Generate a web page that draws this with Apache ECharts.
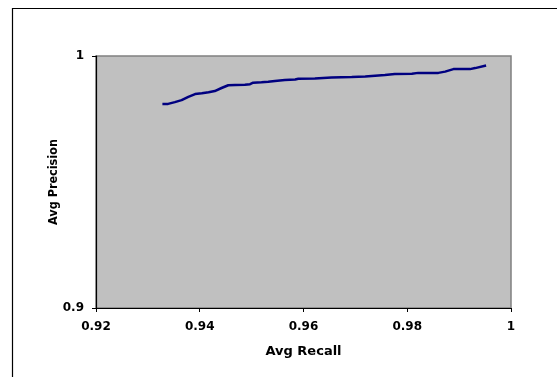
<!DOCTYPE html>
<html>
<head>
<meta charset="utf-8">
<script src="https://cdn.jsdelivr.net/npm/echarts@6/dist/echarts.min.js"></script>
<style>html,body{margin:0;padding:0;background:#fff;}#chart{width:557px;height:377px;}</style>
</head>
<body>
<div id="chart"></div>
<script>
var recall = [0.9328,0.9339,0.9352,0.9365,0.9378,0.9391,0.9404,0.9417,0.9429,0.9442,0.9455,0.9468,0.9487,0.9497,0.9503,0.9519,0.9532,0.9545,0.9564,0.9584,0.9590,0.9622,0.9654,0.9693,0.9719,0.9757,0.9776,0.9809,0.9821,0.9860,0.9873,0.9889,0.9921,0.9931,0.9952];
var precision = [0.9810,0.9810,0.9817,0.9825,0.9838,0.9849,0.9852,0.9856,0.9861,0.9873,0.9884,0.9885,0.9886,0.9888,0.9894,0.9896,0.9898,0.9901,0.9905,0.9907,0.9910,0.9911,0.9915,0.9917,0.9919,0.9925,0.9929,0.9930,0.9933,0.9933,0.9938,0.9948,0.9948,0.9952,0.9962];
var xTicks = [0.92, 0.94, 0.96, 0.98, 1];
var yTicks = [0.9, 1];
var xTitle = 'Avg Recall';
var yTitle = 'Avg Precision';

var points = recall.map(function (r, i) { return [r, precision[i]]; });
var chart = echarts.init(document.getElementById('chart'), null, {renderer: 'canvas'});
var labelFont = {color: '#000', fontFamily: 'DejaVu Sans', fontWeight: 'bold', fontSize: 12};
chart.setOption({
  animation: false,
  backgroundColor: '#fff',
  graphic: [{
    type: 'rect',
    shape: {x: 12.5, y: 8.5, width: 700, height: 500},
    style: {fill: 'none', stroke: '#000', lineWidth: 1.2},
    silent: true
  }],
  grid: {
    left: 96, top: 56, right: 46, bottom: 69,
    show: true, backgroundColor: '#C0C0C0', borderColor: '#808080', borderWidth: 1.5
  },
  xAxis: {
    type: 'value', min: 0.92, max: 1, interval: 0.02,
    name: xTitle, nameLocation: 'middle', nameGap: 37, nameMoveOverlap: false,
    nameTextStyle: {color: '#000', fontFamily: 'DejaVu Sans', fontWeight: 'bold', fontSize: 13},
    axisLine: {show: true, lineStyle: {color: '#000', width: 1.2}},
    axisTick: {show: true, inside: false, length: 4, lineStyle: {color: '#000'}},
    axisLabel: Object.assign({margin: 13, formatter: function (v) { return String(+v.toFixed(2)); }}, labelFont),
    splitLine: {show: false}
  },
  yAxis: {
    type: 'value', min: 0.9, max: 1, interval: 0.1,
    name: yTitle, nameLocation: 'middle', nameGap: 36, nameRotate: 90, nameMoveOverlap: false,
    nameTextStyle: {color: '#000', fontFamily: 'DejaVu Sans Condensed, Liberation Sans', fontWeight: 'bold', fontSize: 12.5},
    axisLine: {show: true, lineStyle: {color: '#000', width: 1.2}},
    axisTick: {show: true, inside: false, length: 4, lineStyle: {color: '#000'}},
    axisLabel: Object.assign({margin: 12, formatter: function (v) { return String(+v.toFixed(2)); }}, labelFont),
    splitLine: {show: false}
  },
  series: [{
    type: 'line',
    data: points,
    showSymbol: false,
    symbol: 'none',
    smooth: false,
    lineStyle: {color: '#000080', width: 2.5},
    itemStyle: {color: '#000080'}
  }]
});
</script>
</body>
</html>
